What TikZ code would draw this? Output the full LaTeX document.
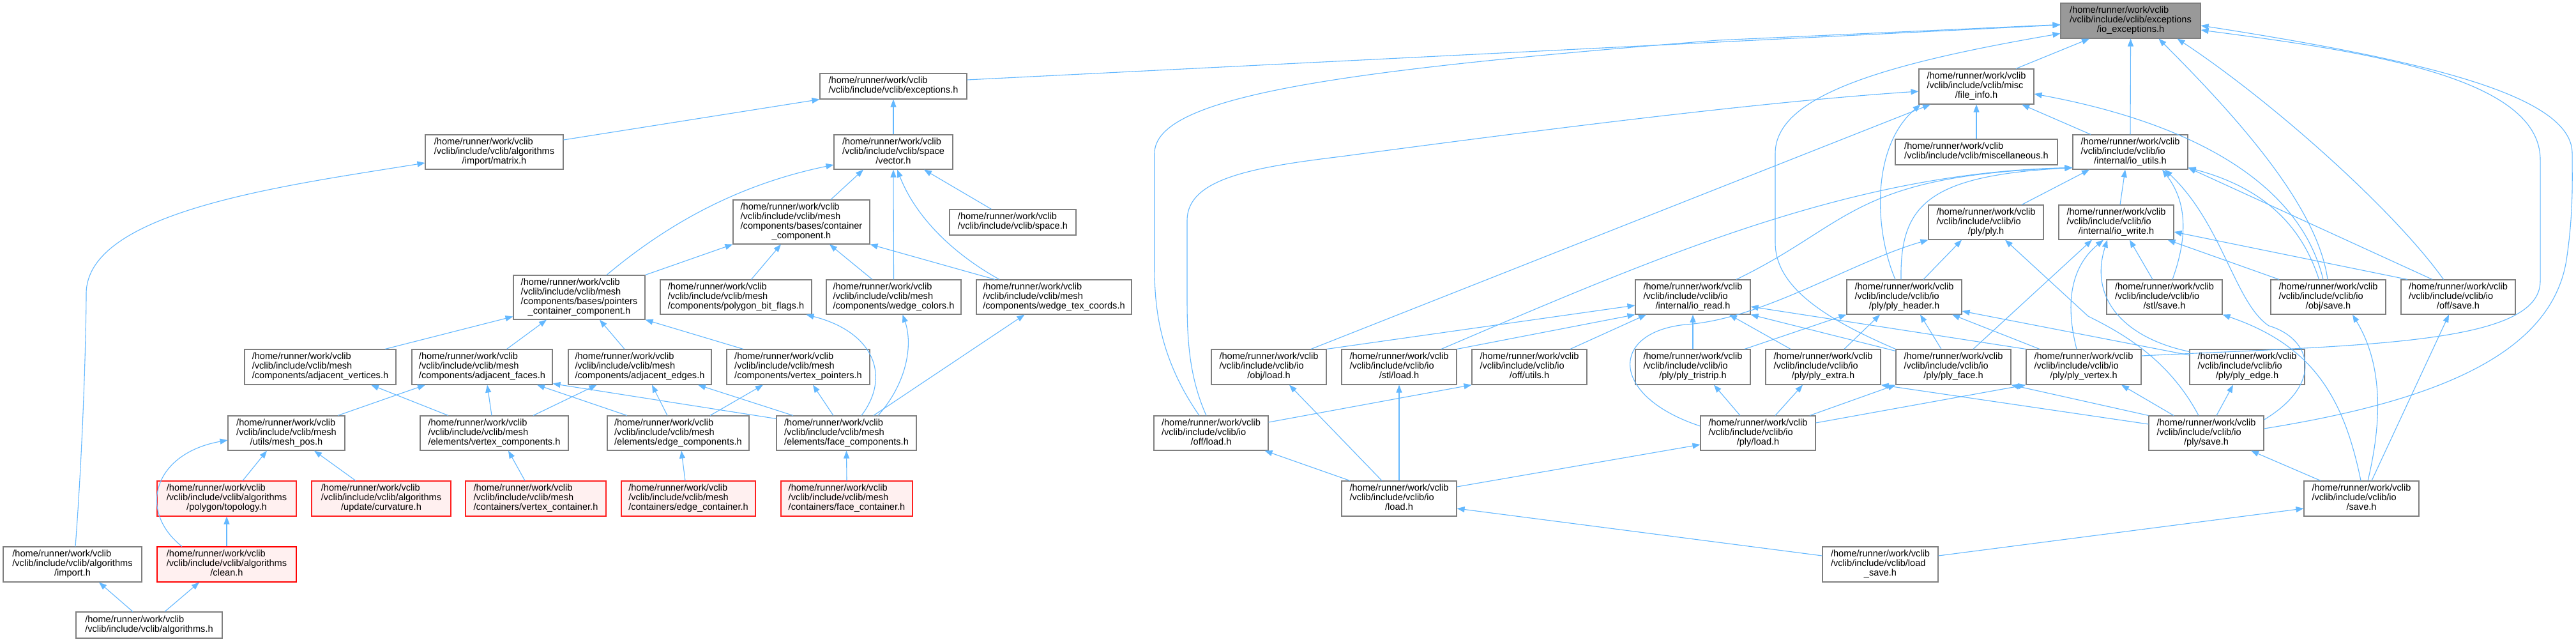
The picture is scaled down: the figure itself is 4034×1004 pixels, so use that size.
\documentclass[tikz,border=0pt]{standalone}
\usepackage{fontspec}
\setmainfont{Liberation Sans}
\usetikzlibrary{arrows.meta,calc}
\definecolor{edgeblue}{HTML}{63B8FF}
\definecolor{nodeborder}{HTML}{7F7F7F}
\definecolor{rootfill}{HTML}{999999}
\definecolor{redfill}{HTML}{FFF0F0}
\definecolor{redborder}{HTML}{FF2020}
\newcommand{\lbfont}{\fontsize{14.6pt}{14.7pt}\selectfont}
\newcommand{\lb}[2]{\begin{tabular}{@{}l@{}}#1\\\multicolumn{1}{@{}c@{}}{#2}\end{tabular}}
\tikzset{
  nb/.style={draw=nodeborder, fill=white, line width=1.1pt, inner sep=0pt, rectangle, font=\lbfont},
  rb/.style={nb, draw=redborder, fill=redfill},
  e/.style={draw=edgeblue, line width=1.1pt, -{Triangle[length=12pt,width=9pt]}}
}
\begin{document}
\begin{tikzpicture}[x=1pt,y=-1pt]
\fill[white] (0,0) rectangle (4034,1004);
\useasboundingbox (0,0) rectangle (4034,1004);
% ---------- nodes ----------
\node[nb, fill=rootfill, minimum width=219, minimum height=55] (root) at (3336.5,32.5) {\lb{/home/runner/work/vclib\\/vclib/include/vclib/exceptions}{/io\_exceptions.h}};
\node[nb, minimum width=230, minimum height=40] (exc) at (1399,135) {\lb{/home/runner/work/vclib}{/vclib/include/vclib/exceptions.h}};
\node[nb, minimum width=180, minimum height=55] (fileinfo) at (3095,135.5) {\lb{/home/runner/work/vclib\\/vclib/include/vclib/misc}{/file\_info.h}};
\node[nb, minimum width=216, minimum height=54] (matrix) at (774,238) {\lb{/home/runner/work/vclib\\/vclib/include/vclib/algorithms}{/import/matrix.h}};
\node[nb, minimum width=186, minimum height=54] (vector) at (1399,238) {\lb{/home/runner/work/vclib\\/vclib/include/vclib/space}{/vector.h}};
\node[nb, minimum width=254, minimum height=40] (misc) at (3095,238) {\lb{/home/runner/work/vclib}{/vclib/include/vclib/miscellaneous.h}};
\node[nb, minimum width=180, minimum height=54] (ioutils) at (3336,238) {\lb{/home/runner/work/vclib\\/vclib/include/vclib/io}{/internal/io\_utils.h}};
\node[nb, minimum width=214, minimum height=69] (container) at (1255,347.5) {\lb{/home/runner/work/vclib\\/vclib/include/vclib/mesh\\/components/bases/container}{\_component.h}};
\node[nb, minimum width=198, minimum height=40] (space) at (1586,348) {\lb{/home/runner/work/vclib}{/vclib/include/vclib/space.h}};
\node[nb, minimum width=180, minimum height=54] (plyh) at (3110,348) {\lb{/home/runner/work/vclib\\/vclib/include/vclib/io}{/ply/ply.h}};
\node[nb, minimum width=180, minimum height=54] (iowrite) at (3314,348) {\lb{/home/runner/work/vclib\\/vclib/include/vclib/io}{/internal/io\_write.h}};
\node[nb, minimum width=206, minimum height=69] (pointers) at (907,465.5) {\lb{/home/runner/work/vclib\\/vclib/include/vclib/mesh\\/components/bases/pointers}{\_container\_component.h}};
\node[nb, minimum width=237, minimum height=54] (pbf) at (1152.5,465) {\lb{/home/runner/work/vclib\\/vclib/include/vclib/mesh}{/components/polygon\_bit\_flags.h}};
\node[nb, minimum width=211, minimum height=54] (wcol) at (1399.5,465) {\lb{/home/runner/work/vclib\\/vclib/include/vclib/mesh}{/components/wedge\_colors.h}};
\node[nb, minimum width=243, minimum height=54] (wtex) at (1650.5,465) {\lb{/home/runner/work/vclib\\/vclib/include/vclib/mesh}{/components/wedge\_tex\_coords.h}};
\node[nb, minimum width=180, minimum height=54] (ioread) at (2651,465) {\lb{/home/runner/work/vclib\\/vclib/include/vclib/io}{/internal/io\_read.h}};
\node[nb, minimum width=180, minimum height=54] (plyheader) at (2982,465) {\lb{/home/runner/work/vclib\\/vclib/include/vclib/io}{/ply/ply\_header.h}};
\node[nb, minimum width=181, minimum height=54] (stlsave) at (3389.5,465) {\lb{/home/runner/work/vclib\\/vclib/include/vclib/io}{/stl/save.h}};
\node[nb, minimum width=180, minimum height=54] (objsave) at (3646,465) {\lb{/home/runner/work/vclib\\/vclib/include/vclib/io}{/obj/save.h}};
\node[nb, minimum width=179, minimum height=54] (offsave) at (3849.5,465) {\lb{/home/runner/work/vclib\\/vclib/include/vclib/io}{/off/save.h}};
\node[nb, minimum width=237, minimum height=55] (adjv) at (501.5,574.5) {\lb{/home/runner/work/vclib\\/vclib/include/vclib/mesh}{/components/adjacent\_vertices.h}};
\node[nb, minimum width=220, minimum height=55] (adjf) at (755,574.5) {\lb{/home/runner/work/vclib\\/vclib/include/vclib/mesh}{/components/adjacent\_faces.h}};
\node[nb, minimum width=224, minimum height=55] (adje) at (1002,574.5) {\lb{/home/runner/work/vclib\\/vclib/include/vclib/mesh}{/components/adjacent\_edges.h}};
\node[nb, minimum width=224, minimum height=55] (vptr) at (1250,574.5) {\lb{/home/runner/work/vclib\\/vclib/include/vclib/mesh}{/components/vertex\_pointers.h}};
\node[nb, minimum width=180, minimum height=55] (objload) at (1987,574.5) {\lb{/home/runner/work/vclib\\/vclib/include/vclib/io}{/obj/load.h}};
\node[nb, minimum width=180, minimum height=55] (stlload) at (2191,574.5) {\lb{/home/runner/work/vclib\\/vclib/include/vclib/io}{/stl/load.h}};
\node[nb, minimum width=180, minimum height=55] (offutils) at (2395,574.5) {\lb{/home/runner/work/vclib\\/vclib/include/vclib/io}{/off/utils.h}};
\node[nb, minimum width=180, minimum height=55] (plytri) at (2651,574.5) {\lb{/home/runner/work/vclib\\/vclib/include/vclib/io}{/ply/ply\_tristrip.h}};
\node[nb, minimum width=180, minimum height=55] (plyextra) at (2855,574.5) {\lb{/home/runner/work/vclib\\/vclib/include/vclib/io}{/ply/ply\_extra.h}};
\node[nb, minimum width=180, minimum height=55] (plyface) at (3059,574.5) {\lb{/home/runner/work/vclib\\/vclib/include/vclib/io}{/ply/ply\_face.h}};
\node[nb, minimum width=180, minimum height=55] (plyvertex) at (3263,574.5) {\lb{/home/runner/work/vclib\\/vclib/include/vclib/io}{/ply/ply\_vertex.h}};
\node[nb, minimum width=180, minimum height=55] (plyedge) at (3519,574.5) {\lb{/home/runner/work/vclib\\/vclib/include/vclib/io}{/ply/ply\_edge.h}};
\node[nb, minimum width=183, minimum height=54] (meshpos) at (448.5,678) {\lb{/home/runner/work/vclib\\/vclib/include/vclib/mesh}{/utils/mesh\_pos.h}};
\node[nb, minimum width=232, minimum height=54] (vcomp) at (774,678) {\lb{/home/runner/work/vclib\\/vclib/include/vclib/mesh}{/elements/vertex\_components.h}};
\node[nb, minimum width=222, minimum height=54] (ecomp) at (1062,678) {\lb{/home/runner/work/vclib\\/vclib/include/vclib/mesh}{/elements/edge\_components.h}};
\node[nb, minimum width=219, minimum height=54] (fcomp) at (1325.5,678) {\lb{/home/runner/work/vclib\\/vclib/include/vclib/mesh}{/elements/face\_components.h}};
\node[nb, minimum width=179, minimum height=54] (offload) at (1896.5,678) {\lb{/home/runner/work/vclib\\/vclib/include/vclib/io}{/off/load.h}};
\node[nb, minimum width=180, minimum height=54] (plyload) at (2753,678) {\lb{/home/runner/work/vclib\\/vclib/include/vclib/io}{/ply/load.h}};
\node[nb, minimum width=180, minimum height=54] (plysave) at (3455,678) {\lb{/home/runner/work/vclib\\/vclib/include/vclib/io}{/ply/save.h}};
\node[rb, minimum width=218, minimum height=55] (topology) at (355,780.5) {\lb{/home/runner/work/vclib\\/vclib/include/vclib/algorithms}{/polygon/topology.h}};
\node[rb, minimum width=218, minimum height=55] (curvature) at (597,780.5) {\lb{/home/runner/work/vclib\\/vclib/include/vclib/algorithms}{/update/curvature.h}};
\node[rb, minimum width=220, minimum height=55] (vcont) at (839,780.5) {\lb{/home/runner/work/vclib\\/vclib/include/vclib/mesh}{/containers/vertex\_container.h}};
\node[rb, minimum width=210, minimum height=55] (econt) at (1078,780.5) {\lb{/home/runner/work/vclib\\/vclib/include/vclib/mesh}{/containers/edge\_container.h}};
\node[rb, minimum width=206, minimum height=55] (fcont) at (1326,780.5) {\lb{/home/runner/work/vclib\\/vclib/include/vclib/mesh}{/containers/face\_container.h}};
\node[nb, minimum width=180, minimum height=55] (ioload) at (2191,780.5) {\lb{/home/runner/work/vclib\\/vclib/include/vclib/io}{/load.h}};
\node[nb, minimum width=180, minimum height=55] (iosave) at (3698,780.5) {\lb{/home/runner/work/vclib\\/vclib/include/vclib/io}{/save.h}};
\node[nb, minimum width=217, minimum height=55] (import) at (113.5,883.5) {\lb{/home/runner/work/vclib\\/vclib/include/vclib/algorithms}{/import.h}};
\node[rb, draw=red, minimum width=218, minimum height=55] (clean) at (355,883.5) {\lb{/home/runner/work/vclib\\/vclib/include/vclib/algorithms}{/clean.h}};
\node[nb, minimum width=181, minimum height=55] (loadsave) at (2944.5,883.5) {\lb{/home/runner/work/vclib\\/vclib/include/vclib/load}{\_save.h}};
\node[nb, minimum width=229, minimum height=41] (algorithms) at (233.5,978.5) {\lb{/home/runner/work/vclib}{/vclib/include/vclib/algorithms.h}};
% ---------- left edges ----------
\draw[e] ($(exc.east)+(0,-10)$) -- ($(root.west)+(0,6.5)$);
\draw[e] ($(matrix.east)+(0,-19)$) -- (exc.south west);
\draw[e] (vector.north) -- (exc.south);
\draw[e] ($(import.north)+(4.5,0)$) .. controls (130,700) and (135,520) .. (135,460) .. controls (135,330) and (450,290) .. ($(matrix.west)+(0,17)$);
\draw[e] ($(algorithms.north)+(-25.5,0)$) -- ($(import.south)+(41.5,0)$);
\draw[e] ($(algorithms.north)+(24.5,0)$) -- ($(clean.south)+(-43,0)$);
\draw[e] (clean.north) -- (topology.south);
\draw[e] ($(clean.north)+(-70,0)$) .. controls (215,800) and (240,710) .. ($(meshpos.west)+(0,11)$);
\draw[e] ($(topology.north)+(25,0)$) -- ($(meshpos.south)+(-30.5,0)$);
\draw[e] ($(curvature.north)+(-40,0)$) -- ($(meshpos.south)+(43.5,0)$);
\draw[e] ($(meshpos.north)+(80.5,0)$) -- ($(adjf.south)+(-89,0)$);
\draw[e] ($(vcomp.north)+(-72,0)$) -- ($(adjv.south)+(79.5,0)$);
\draw[e] ($(adjv.north)+(101.5,0)$) -- ($(pointers.west)+(0,30)$);
\draw[e] ($(adjf.north)+(38.6,0)$) -- ($(pointers.south)+(-51,0)$);
\draw[e] ($(adje.north)+(-24,0)$) -- ($(pointers.south)+(32,0)$);
\draw[e] ($(vptr.north)+(-86,0)$) -- (pointers.south east);
\draw[e] (pointers.north east) -- (container.south west);
\draw[e] ($(pointers.north)+(43,0)$) .. controls (1040,355) and (1150,290) .. ($(vector.west)+(0,20)$);
\draw[e] ($(pbf.north)+(24,0)$) -- ($(container.south)+(-32,0)$);
\draw[e] ($(wcol.north)+(-33.5,0)$) -- ($(container.south)+(44,0)$);
\draw[e] (wcol.north) -- (vector.south);
\draw[e] ($(wtex.north)+(-85.5,0)$) .. controls (1480,390) and (1430,330) .. ($(vector.south)+(6,0)$);
\draw[e] ($(wtex.north)+(-92.5,0)$) -- (container.south east);
\draw[e] ($(container.north)+(46,0)$) -- ($(vector.south)+(-47,0)$);
\draw[e] ($(space.north)+(-33.5,0)$) -- ($(vector.south)+(48,0)$);
\draw[e] ($(vcomp.north)+(-4,0)$) -- ($(adjf.south)+(8,0)$);
\draw[e] ($(vcomp.north)+(61,0)$) -- ($(adje.south)+(-67.5,0)$);
\draw[e] ($(ecomp.north)+(-80,0)$) -- ($(adjf.south)+(86,0)$);
\draw[e] ($(ecomp.north)+(-17,0)$) -- ($(adje.south)+(19,0)$);
\draw[e] ($(ecomp.north)+(50,0)$) -- ($(vptr.south)+(-55,0)$);
\draw[e] ($(fcomp.north west)+(0,5)$) -- ($(adjf.south east)+(0,-2)$);
\draw[e] ($(fcomp.north)+(-83.5,0)$) -- ($(adje.south)+(91,0)$);
\draw[e] ($(fcomp.north)+(-20.5,0)$) -- ($(vptr.south)+(23,0)$);
\draw[e] ($(fcomp.north)+(23.5,0)$) .. controls (1395,590) and (1370,520) .. ($(pbf.south)+(110,0)$);
\draw[e] ($(fcomp.north)+(49.5,0)$) .. controls (1420,600) and (1430,540) .. ($(wcol.south)+(14,0)$);
\draw[e] ($(fcomp.north)+(42.5,0)$) -- ($(wtex.south)+(-46,0)$);
\draw[e] ($(vcont.north)+(-17,0)$) -- ($(vcomp.south)+(22,0)$);
\draw[e] ($(econt.north)+(-5,0)$) -- ($(ecomp.south)+(5,0)$);
\draw[e] (fcont.north) -- (fcomp.south);
% ---------- right edges ----------
\draw[e] ($(offload.north)+(-18.5,0)$) .. controls (1815,560) and (1808,480) .. (1808,420) -- (1808,240) .. controls (1808,150) and (2100,110) .. (2690,63) -- ($(root.west)+(0,6)$);
\draw[e] ($(offload.north)+(-7.5,0)$) .. controls (1862,590) and (1859,530) .. (1859,470) -- (1859,345) .. controls (1859,280) and (1960,262) .. (2100,245) .. controls (2400,205) and (2750,160) .. ($(fileinfo.west)+(0,7.5)$);
\draw[e] ($(offload.east)+(0,-17)$) -- (offutils.south west);
\draw[e] (plyface.north west) .. controls (2860,500) and (2780,450) .. (2780,380) -- (2780,240) .. controls (2780,150) and (2950,100) .. ($(root.west)+(0,20)$);
\draw[e] ($(fileinfo.north)+(62,0)$) -- ($(root.south)+(-64.5,0)$);
\draw[e] (ioutils.north) -- (root.south);
\draw[e] ($(objsave.north)+(-1,0)$) .. controls (3630,330) and (3520,200) .. ($(root.south)+(44,0)$);
\draw[e] ($(offsave.north)+(-23,0)$) .. controls (3750,330) and (3560,160) .. ($(root.south)+(73,0)$);
\draw[e] ($(plyvertex.east)+(0,-17.5)$) .. controls (3700,540) and (3978,540) .. (3978,440) -- (3978,250) .. controls (3978,120) and (3700,80) .. ($(root.east)+(0,14.5)$);
\draw[e] ($(plysave.east)+(0,-7)$) .. controls (3800,630) and (4000,560) .. (4020,400) .. controls (4030,330) and (4028,280) .. (4028,240) .. controls (4028,150) and (3800,95) .. ($(root.east)+(0,7.5)$);
\draw[e] ($(ioutils.north)+(-62,0)$) -- ($(fileinfo.south)+(71,0)$);
\draw[e] (misc.north) -- (fileinfo.south);
\draw[e] ($(plyheader.north)+(-14,0)$) .. controls (2935,360) and (2930,230) .. ($(fileinfo.south west)+(3,0)$);
\draw[e] ($(objload.north)+(66,0)$) -- ($(fileinfo.south)+(-72,0)$);
\draw[e] ($(objsave.north)+(-8,0)$) .. controls (3600,280) and (3420,190) .. ($(fileinfo.east)+(0,11.5)$);
\draw[e] ($(iowrite.north)+(6,0)$) -- ($(ioutils.south)+(-8,0)$);
\draw[e] ($(plyh.north)+(56,0)$) -- ($(ioutils.south)+(-64,0)$);
\draw[e] ($(plyheader.north)+(-5,0)$) .. controls (2975,320) and (3020,275) .. ($(ioutils.south west)+(0,-3)$);
\draw[e] ($(stlload.north)+(66,0)$) .. controls (2600,400) and (2900,270) .. ($(ioutils.south west)+(0,-3)$);
\draw[e] ($(ioread.north)+(68,0)$) .. controls (2900,350) and (2900,275) .. ($(ioutils.south west)+(0,-3)$);
\draw[e] ($(stlsave.north)+(12.5,0)$) .. controls (3430,360) and (3420,310) .. ($(ioutils.south)+(50,0)$);
\draw[e] ($(plysave.east)+(0,-21)$) .. controls (3640,600) and (3620,530) .. (3553,510) .. controls (3500,475) and (3480,350) .. ($(ioutils.south)+(54,0)$);
\draw[e] ($(objsave.north)+(-14.5,0)$) .. controls (3600,340) and (3530,290) .. ($(ioutils.south east)+(0,-3)$);
\draw[e] ($(offsave.north)+(-40.5,0)$) -- ($(ioutils.south east)+(0,-3)$);
\draw[e] ($(offsave.north)+(-79.5,0)$) -- ($(iowrite.east)+(0,15)$);
\draw[e] ($(objsave.north)+(-77,0)$) -- ($(iowrite.south east)+(-10,0)$);
\draw[e] ($(stlsave.north)+(-18.5,0)$) -- ($(iowrite.south)+(21,0)$);
\draw[e] ($(plyface.north)+(31,0)$) -- ($(iowrite.south)+(-38,0)$);
\draw[e] ($(plyvertex.north)+(-11,0)$) .. controls (3235,480) and (3240,420) .. ($(iowrite.south)+(-20,0)$);
\draw[e] ($(plyedge.north west)+(0,4)$) .. controls (3330,530) and (3270,470) .. ($(iowrite.south)+(-14,0)$);
\draw[e] ($(plyheader.north)+(30,0)$) -- ($(plyh.south)+(-38,0)$);
\draw[e] ($(plyload.west)+(0,-11)$) .. controls (2520,620) and (2520,520) .. (2640,508) .. controls (2760,500) and (2900,410) .. (plyh.south west);
\draw[e] ($(plysave.north)+(-12,0)$) .. controls (3395,560) and (3320,520) .. (3270,495) -- ($(plyh.south)+(30,0)$);
\draw[e] ($(plytri.north)+(81,0)$) -- (plyheader.south west);
\draw[e] ($(plyextra.north)+(33,0)$) -- ($(plyheader.south)+(-38,0)$);
\draw[e] ($(plyface.north)+(-19,0)$) -- ($(plyheader.south)+(25,0)$);
\draw[e] ($(plyvertex.north)+(-69,0)$) -- ($(plyheader.south)+(75,0)$);
\draw[e] ($(plyedge.west)+(0,-18.5)$) -- ($(plyheader.east)+(0,22)$);
\draw[e] (objload.north east) -- ($(ioread.west)+(0,13)$);
\draw[e] (stlload.north east) -- (ioread.south west);
\draw[e] ($(offutils.north)+(64,0)$) -- ($(ioread.south)+(-73,0)$);
\draw[e] (plytri.north) -- (ioread.south);
\draw[e] ($(plyextra.north)+(-51,0)$) -- ($(ioread.south)+(57,0)$);
\draw[e] ($(plyface.north west)+(0,3)$) -- (ioread.south east);
\draw[e] (plyvertex.north west) -- ($(ioread.east)+(0,15)$);
\draw[e] ($(plyload.north)+(-28,0)$) -- ($(plytri.south)+(33,0)$);
\draw[e] ($(plyload.north)+(27,0)$) -- ($(plyextra.south)+(-32,0)$);
\draw[e] ($(plyload.north)+(81,0)$) -- (plyface.south west);
\draw[e] ($(plyload.east)+(0,-16)$) -- (plyvertex.south west);
\draw[e] ($(plysave.west)+(0,-14)$) -- (plyextra.south east);
\draw[e] (plysave.north west) -- (plyface.south east);
\draw[e] ($(plysave.north)+(-51,0)$) -- ($(plyvertex.south)+(59,0)$);
\draw[e] ($(plysave.north)+(16,0)$) -- ($(plyedge.south)+(-22,0)$);
\draw[e] ($(ioload.north)+(-77,0)$) -- ($(offload.south east)+(-6,0)$);
\draw[e] ($(ioload.north)+(-27,0)$) -- ($(objload.south)+(32,0)$);
\draw[e] (ioload.north) -- (stlload.south);
\draw[e] ($(ioload.east)+(0,-18.5)$) -- ($(plyload.west)+(0,18)$);
\draw[e] ($(iosave.north)+(-64,0)$) -- ($(plysave.south)+(70,0)$);
\draw[e] ($(iosave.north)+(-1,0)$) .. controls (3670,620) and (3620,540) .. (stlsave.south east);
\draw[e] ($(iosave.north)+(10,0)$) .. controls (3735,640) and (3725,560) .. ($(objsave.south)+(38,0)$);
\draw[e] ($(iosave.north)+(16,0)$) -- ($(offsave.south)+(-14.5,0)$);
\draw[e] ($(loadsave.west)+(0,-13.5)$) -- ($(ioload.east)+(0,15.5)$);
\draw[e] ($(loadsave.east)+(0,-13.5)$) -- ($(iosave.west)+(0,15.5)$);
\end{tikzpicture}
\end{document}
